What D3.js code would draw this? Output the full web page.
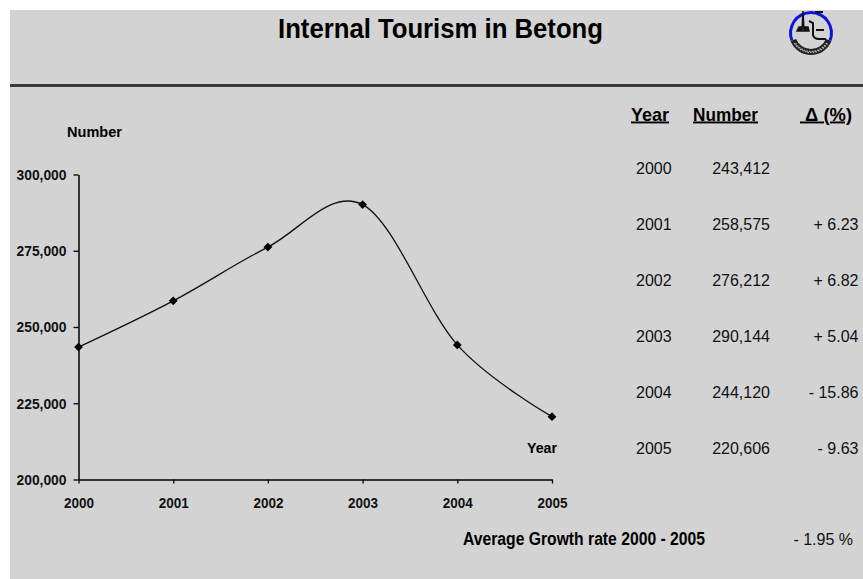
<!DOCTYPE html>
<html>
<head>
<meta charset="utf-8">
<script src="https://cdn.jsdelivr.net/npm/d3@7"></script>
<style>
  body { margin: 0; background: #fff; }
  svg { display: block; font-family: "Liberation Sans", Arial, sans-serif; }
</style>
</head>
<body>
<svg width="863" height="579"></svg>
<script>
// chart data
const years = [2000, 2001, 2002, 2003, 2004, 2005];
const visitors = [243412, 258575, 276212, 290144, 244120, 220606];
const changes = [null, 6.23, 6.82, 5.04, -15.86, -9.63];
const yTicks = [200000, 225000, 250000, 275000, 300000];
const avgGrowth = -1.95;
const titleText = "Internal Tourism in Betong";

const svg = d3.select("svg");
const width = +svg.attr("width");
const height = +svg.attr("height");

// grey slide background
svg.append("rect")
    .attr("x", 10).attr("y", 10)
    .attr("width", width - 10).attr("height", height - 10)
    .attr("fill", "#d3d3d3");

svg.append("defs").append("clipPath").attr("id", "slide")
    .append("rect")
    .attr("x", 10).attr("y", 10)
    .attr("width", width - 10).attr("height", height - 10);

// title + separator
svg.append("text")
    .attr("x", 278).attr("y", 38)
    .attr("font-size", 28).attr("font-weight", "bold")
    .attr("textLength", 325).attr("lengthAdjust", "spacingAndGlyphs")
    .attr("fill", "#000")
    .text(titleText);

svg.append("line")
    .attr("x1", 10).attr("x2", width)
    .attr("y1", 85.5).attr("y2", 85.5)
    .attr("stroke", "#3a3a3a").attr("stroke-width", 3);

// small logo, top right (clipped by the white border)
const logo = svg.append("g").attr("clip-path", "url(#slide)")
    .append("g")
    .attr("transform", "translate(811,33)");
logo.append("path")
    .attr("d", d3.arc()({innerRadius: 19, outerRadius: 22, startAngle: -Math.PI * 0.62, endAngle: Math.PI * 0.62}))
    .attr("fill", "#1010e0");
logo.append("path")
    .attr("d", d3.arc()({innerRadius: 16, outerRadius: 22, startAngle: Math.PI * 0.62, endAngle: Math.PI * 1.38}))
    .attr("fill", "#222");
logo.append("path")
    .attr("d", d3.arc()({innerRadius: 18.5, outerRadius: 19.5, startAngle: Math.PI * 0.68, endAngle: Math.PI * 1.32}))
    .attr("fill", "none").attr("stroke", "#bbb").attr("stroke-width", 1.2)
    .attr("stroke-dasharray", "1.5,1.2");
logo.append("path")
    .attr("d", "M-9,-2 L-8,-22 L-7,-2 M-14,-2 L-2,-2 L-3,-6 L-12,-6 Z")
    .attr("fill", "#111").attr("stroke", "#111").attr("stroke-width", 1.5);
logo.append("path")
    .attr("d", "M-2,-12 L2,-10 L2,2 Q3,6 8,6 L15,6 M5,-3 L13,-3 M4,-21 L12,-21")
    .attr("fill", "none").attr("stroke", "#111").attr("stroke-width", 2);

// scales
const x = d3.scaleLinear().domain([2000, 2005]).range([78.5, 552]);
const y = d3.scaleLinear().domain([200000, 300000]).range([479.5, 174.5]);

// axes
const xAxis = svg.append("g")
    .attr("transform", `translate(0,${y(200000)})`)
    .call(d3.axisBottom(x).tickValues(years).tickFormat(d3.format("d"))
        .tickSize(4).tickSizeOuter(0).tickPadding(14));

const yAxis = svg.append("g")
    .attr("transform", `translate(${x(2000)},0)`)
    .call(d3.axisLeft(y).tickValues(yTicks).tickFormat(d3.format(","))
        .tickSize(5).tickSizeOuter(0).tickPadding(7));

[xAxis, yAxis].forEach(a => {
    a.select(".domain").attr("stroke", "#000").attr("stroke-width", 1.5);
    a.selectAll(".tick line").attr("stroke", "#000").attr("stroke-width", 1.3);
    a.selectAll(".tick text")
        .attr("fill", "#111")
        .attr("font-weight", "bold")
        .attr("font-family", "\"Liberation Sans\", Arial, sans-serif")
        .attr("lengthAdjust", "spacingAndGlyphs");
});
xAxis.selectAll(".tick text").attr("font-size", 15).attr("textLength", 30);
yAxis.selectAll(".tick text").attr("font-size", 15).attr("textLength", 50);

// axis titles
svg.append("text")
    .attr("x", 67).attr("y", 137)
    .attr("font-size", 15).attr("font-weight", "bold")
    .attr("textLength", 55).attr("lengthAdjust", "spacingAndGlyphs")
    .text("Number");

svg.append("text")
    .attr("x", 557).attr("y", 453)
    .attr("text-anchor", "end")
    .attr("font-size", 15).attr("font-weight", "bold")
    .attr("textLength", 30).attr("lengthAdjust", "spacingAndGlyphs")
    .text("Year");

// smoothed line + diamond markers
const pts = years.map((yr, i) => ({year: yr, value: visitors[i]}));

const line = d3.line()
    .x(d => x(d.year))
    .y(d => y(d.value))
    .curve(d3.curveCardinal.tension(0));

svg.append("path")
    .datum(pts)
    .attr("d", line)
    .attr("fill", "none")
    .attr("stroke", "#111")
    .attr("stroke-width", 1.3);

svg.append("g").selectAll("path")
    .data(pts)
    .enter().append("path")
    .attr("d", d3.symbol().type(d3.symbolSquare).size(38))
    .attr("transform", d => `translate(${x(d.year)},${y(d.value)}) rotate(45)`)
    .attr("fill", "#000");

// data table on the right
const header = svg.append("g")
    .attr("font-size", 19).attr("font-weight", "bold")
    .attr("text-decoration", "underline");
header.append("text").attr("x", 631).attr("y", 120.5)
    .attr("textLength", 38).attr("lengthAdjust", "spacingAndGlyphs").text("Year");
header.append("text").attr("x", 693).attr("y", 120.5)
    .attr("textLength", 65).attr("lengthAdjust", "spacingAndGlyphs").text("Number");
header.append("text").attr("x", 800).attr("y", 120.5)
    .attr("textLength", 52).attr("lengthAdjust", "spacingAndGlyphs").text("\u00a0\u0394 (%)");

const row = d3.scaleLinear().domain([0, 5]).range([174, 454]);
const fmtChange = v => v == null ? "" : (v < 0 ? "- " : "+ ") + Math.abs(v).toFixed(2);

const rows = svg.append("g").attr("font-size", 16).attr("fill", "#111")
    .selectAll("g")
    .data(years.map((yr, i) => ({year: yr, value: visitors[i], change: changes[i], i})))
    .enter().append("g");

rows.append("text")
    .attr("x", 636).attr("y", d => row(d.i))
    .text(d => d.year);
rows.append("text")
    .attr("x", 770).attr("y", d => row(d.i))
    .attr("text-anchor", "end")
    .text(d => d3.format(",")(d.value));
rows.append("text")
    .attr("x", 858.5).attr("y", d => row(d.i))
    .attr("text-anchor", "end")
    .text(d => fmtChange(d.change));

// average growth line
svg.append("text")
    .attr("x", 463).attr("y", 545)
    .attr("font-size", 18).attr("font-weight", "bold")
    .attr("textLength", 242).attr("lengthAdjust", "spacingAndGlyphs")
    .text("Average Growth rate 2000 - 2005");

svg.append("text")
    .attr("x", 853).attr("y", 545)
    .attr("text-anchor", "end")
    .attr("font-size", 16).attr("fill", "#111")
    .text(fmtChange(avgGrowth) + " %");
</script>
</body>
</html>
